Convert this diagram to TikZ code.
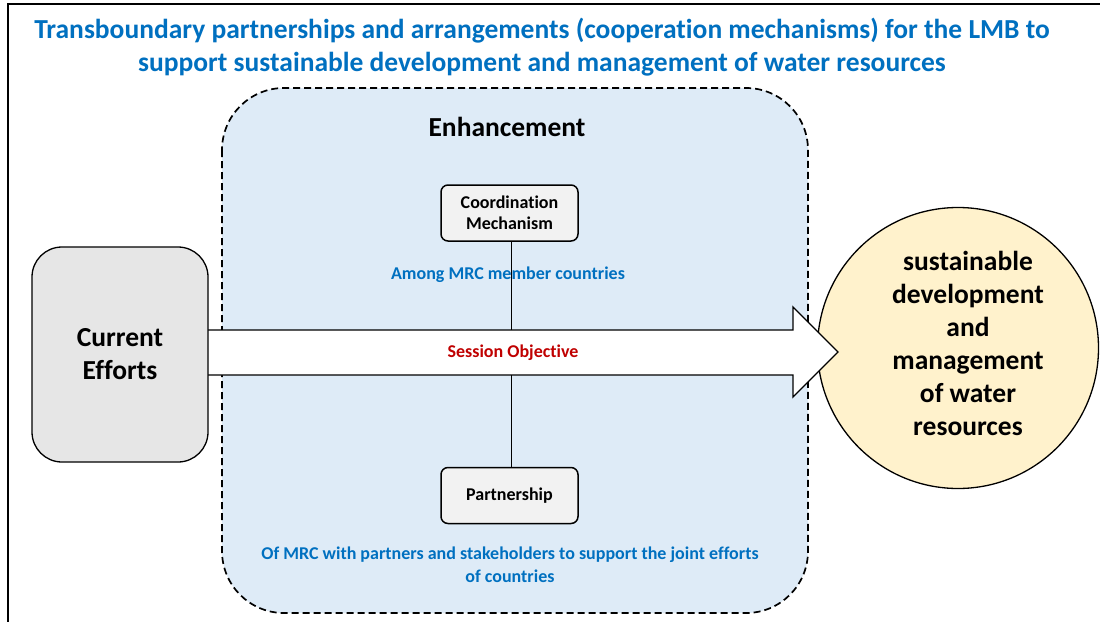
\documentclass[tikz,border=0pt]{standalone}
\usepackage{fontspec}
\setmainfont{Carlito}[Ligatures=NoCommon]
\usepackage{tikz}
\usetikzlibrary{shapes}

\definecolor{titleblue}{RGB}{0,112,192}
\definecolor{enhblue}{RGB}{222,235,247}
\definecolor{boxgray}{RGB}{242,242,242}
\definecolor{curgray}{RGB}{230,230,230}
\definecolor{goalyellow}{RGB}{255,242,204}
\definecolor{objred}{RGB}{192,0,0}

\begin{document}
\begin{tikzpicture}[x=1pt,y=1pt,yscale=-1,xscale=1,
  mech/.style={draw, line width=1.5, rounded corners=7, fill=boxgray, align=center,
    minimum width=137, minimum height=56, inner sep=2, font=\bfseries\fontsize{18}{21}\selectfont},
  note/.style={text=titleblue, align=center, inner sep=0.75, font=\bfseries\fontsize{18}{23}\selectfont},
  big/.style={align=center, inner sep=0.75, font=\bfseries\fontsize{27.5}{33}\selectfont}]
\useasboundingbox (0,0) rectangle (1100,621);
\fill[white] (0,0) rectangle (1100,621);
% outer frame
\draw[line width=1.2] (8,640) -- (8,4) -- (1120,4);
\node[text=titleblue, big] (title) at (542,47) {Transboundary partnerships and arrangements (cooperation mechanisms) for the LMB to\\support sustainable development and management of water resources};

% enhancement region
\draw[line width=1.7, dash pattern=on 7pt off 4pt, fill=enhblue, rounded corners=62] (222,88) rectangle (808,613);
\node[big] (enh) at (507,127) {Enhancement};

% goal
\node[circle, draw, line width=1.3, fill=goalyellow, minimum size=281] (goal) at (958,348) {};
\node[big] (goaltext) at (968,343) {sustainable\\development\\and\\management\\of water\\resources};

% main arrow
\coordinate (shafttop) at (511,330);
\coordinate (shaftbot) at (511,375);
\draw[line width=1.3, fill=white] (150,330) -- (793,330) -- (793,307) -- (838,352) -- (793,397) -- (793,375) -- (150,375) -- cycle;
\node[text=objred, inner sep=0.75, font=\bfseries\fontsize{18}{20}\selectfont] (obj) at (513,353) {Session Objective};

% current efforts
\node[draw, line width=1.3, rounded corners=30, fill=curgray, minimum width=176, minimum height=215, big] (cur) at (120,354.5) {Current\\Efforts};

% coordination and partnership
\node[mech] (coord) at (509.5,213) {Coordination\\Mechanism};
\node[mech] (part) at (509.5,495.5) {Partnership};
\draw[line width=1] (coord.south -| shafttop) -- (shafttop);
\draw[line width=1] (shaftbot) -- (part.north -| shaftbot);
\node[note] (among) at (508,275) {Among MRC member countries};
\node[note] (joint) at (510,565) {Of MRC with partners and stakeholders to support the joint efforts\\of countries};
\end{tikzpicture}
\end{document}
